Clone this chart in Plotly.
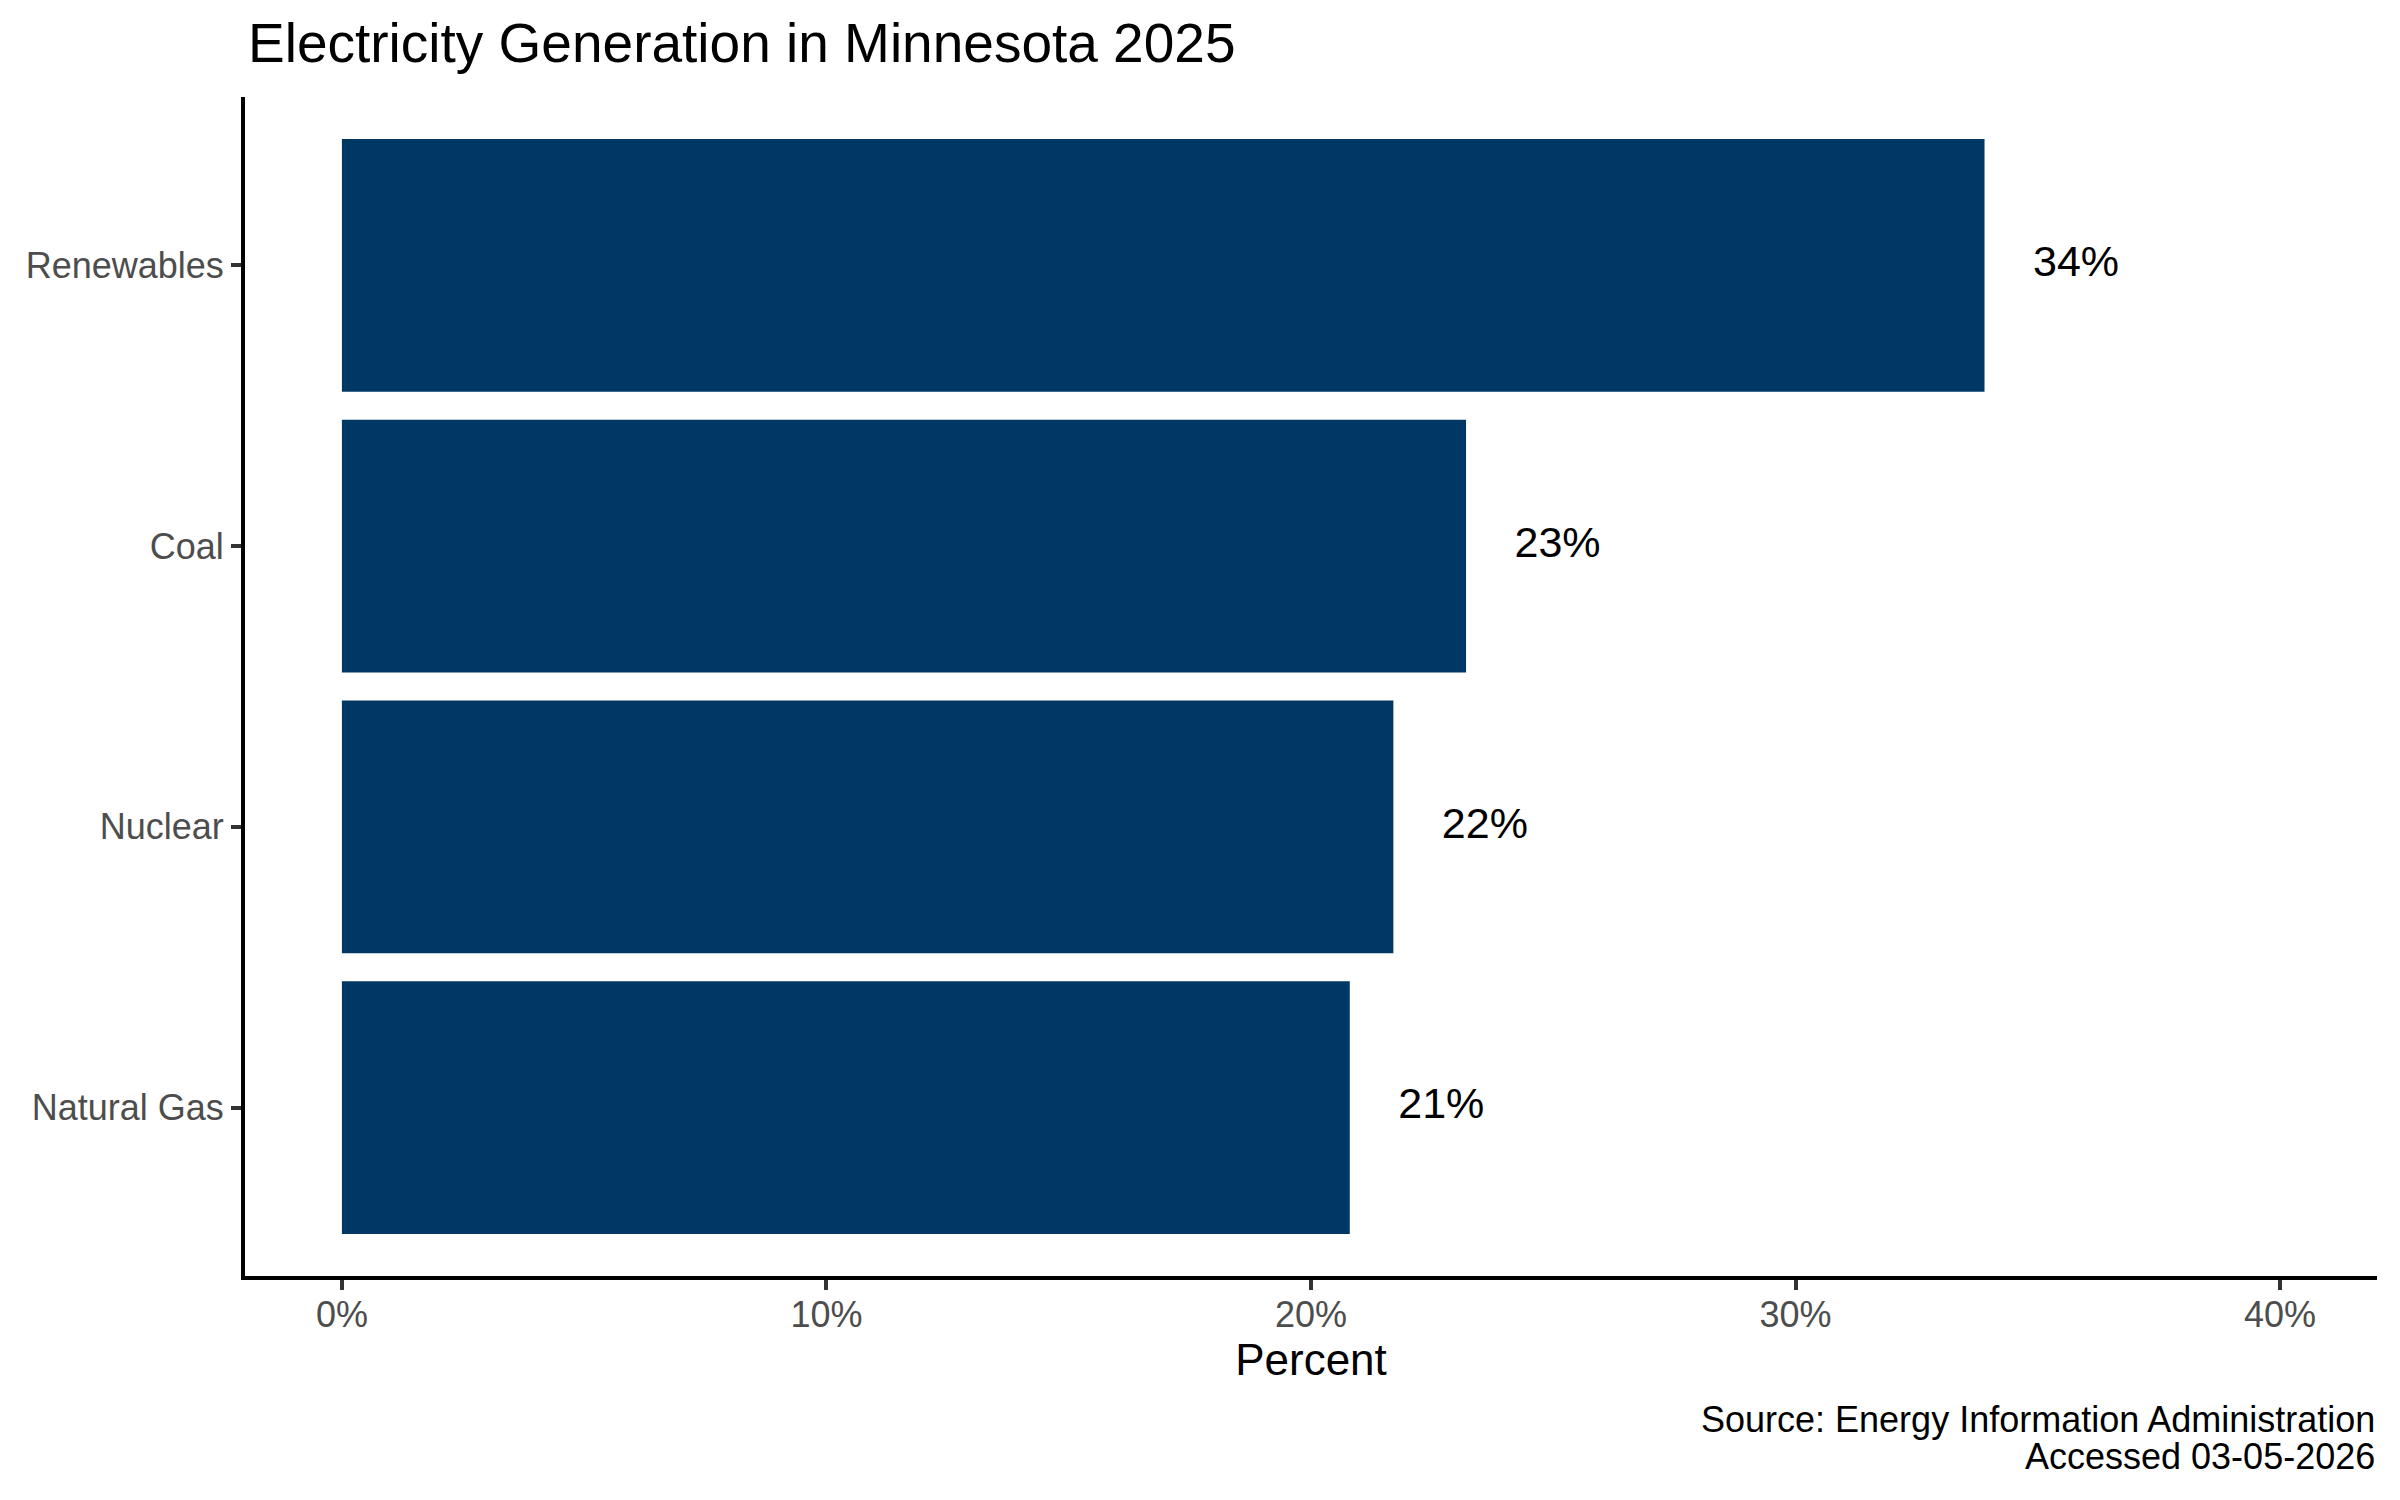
import plotly.graph_objects as go

# electricity generation shares, Minnesota 2025 (percent)
sources = ['Natural Gas', 'Nuclear', 'Coal', 'Renewables']
shares = [20.8, 21.7, 23.2, 33.9]
share_labels = [f'{round(v)}%' for v in shares]

x_tick_vals = [0, 10, 20, 30, 40]
x_tick_text = ['0%', '10%', '20%', '30%', '40%']

bar_color = '#003865'
font_family = 'Liberation Sans, Arial, sans-serif'

# page body has an 8px margin, so the figure is a bit smaller than the window
W, H = 2392, 1492

fig = go.Figure()

fig.add_trace(go.Bar(
    x=shares,
    y=sources,
    orientation='h',
    width=0.9,
    marker=dict(color=bar_color, line=dict(width=0)),
    hoverinfo='x+y',
))

# value labels just to the right of each bar
fig.add_trace(go.Scatter(
    x=[v + 1 for v in shares],
    y=sources,
    mode='text',
    text=share_labels,
    textposition='middle right',
    textfont=dict(size=43, color='black', family=font_family),
    hoverinfo='skip',
))

fig.update_layout(
    width=W,
    height=H,
    margin=dict(l=237, r=23, t=89, b=224),
    plot_bgcolor='white',
    paper_bgcolor='white',
    showlegend=False,
    font=dict(family=font_family),
    title=dict(
        text='Electricity Generation in Minnesota 2025',
        x=240 / W,
        xanchor='left',
        xref='container',
        y=1 - 35 / H,
        yanchor='middle',
        yref='container',
        font=dict(size=55, color='black', family=font_family),
    ),
)

fig.update_xaxes(
    range=[-2, 42],
    tickvals=x_tick_vals,
    ticktext=x_tick_text,
    showgrid=False,
    zeroline=False,
    showline=True,
    linecolor='black',
    linewidth=4,
    ticks='outside',
    ticklen=10,
    tickwidth=4,
    tickcolor='#333333',
    tickfont=dict(size=36, color='#4D4D4D'),
    ticklabelstandoff=-6,
    title=dict(text='Percent', font=dict(size=44, color='black'), standoff=2),
)

fig.update_yaxes(
    type='category',
    categoryorder='array',
    categoryarray=sources,
    range=[-0.6, 3.6],
    showgrid=False,
    zeroline=False,
    showline=True,
    linecolor='black',
    linewidth=4,
    ticks='outside',
    ticklen=10,
    tickwidth=4,
    tickcolor='#333333',
    tickfont=dict(size=36, color='#4D4D4D'),
    ticklabelstandoff=0,
)

# source note, bottom right
plot_h = H - 89 - 224
fig.add_annotation(
    text='Source: Energy Information Administration',
    xref='paper', yref='paper',
    x=1, y=-(1411 - 1268) / plot_h,
    xanchor='right', yanchor='middle',
    showarrow=False,
    font=dict(size=36, color='black'),
)
fig.add_annotation(
    text='Accessed 03-05-2026',
    xref='paper', yref='paper',
    x=1, y=-(1448 - 1268) / plot_h,
    xanchor='right', yanchor='middle',
    showarrow=False,
    font=dict(size=36, color='black'),
)

fig.write_html('out.html')
